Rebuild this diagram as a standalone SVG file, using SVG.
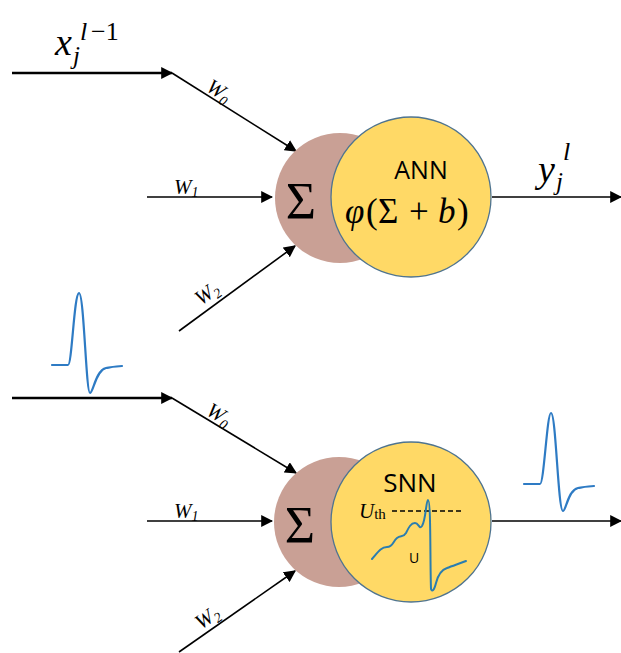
<svg xmlns="http://www.w3.org/2000/svg" width="621" height="653" viewBox="0 0 621 653">
<style>
.ln{stroke:#000;stroke-width:1.6;fill:none}
.thick{stroke:#000;stroke-width:2.6;fill:none}
.brown{fill:#C9A095;stroke:none}
.yel{fill:#FFD966;stroke:#4F7490;stroke-width:1.3}
.math{font-family:"Liberation Serif","DejaVu Serif",serif;font-style:italic;fill:#000}
.up{font-style:normal}
.sans{font-family:"Open Sans","Liberation Sans",sans-serif;fill:#000}
.spike{fill:none;stroke:#2E7BC4;stroke-width:2.2;stroke-linejoin:round;stroke-linecap:round}
.curve{fill:none;stroke:#2A7DB0;stroke-width:2;stroke-linejoin:round;stroke-linecap:round}
</style>
<defs>
<marker id="ahL" viewBox="0 0 10 10" refX="9" refY="5" markerWidth="12" markerHeight="12" markerUnits="userSpaceOnUse" orient="auto">
<path d="M0,0 L10,5 L0,10 Z" fill="#000"/>
</marker>
</defs>

<g id="connectors">
<line class="thick" x1="12" y1="73" x2="172" y2="73" marker-end="url(#ahL)"/>
<line class="ln" x1="172" y1="73" x2="296" y2="151" marker-end="url(#ahL)"/>
<line class="ln" x1="147" y1="197" x2="272" y2="197" marker-end="url(#ahL)"/>
<line class="ln" x1="179" y1="331" x2="295" y2="246" marker-end="url(#ahL)"/>
<line class="ln" x1="492" y1="197" x2="621" y2="197" marker-end="url(#ahL)"/>

<line class="thick" x1="12" y1="398" x2="172" y2="398" marker-end="url(#ahL)"/>
<line class="ln" x1="172" y1="398" x2="296" y2="473" marker-end="url(#ahL)"/>
<line class="ln" x1="147" y1="521" x2="272" y2="521" marker-end="url(#ahL)"/>
<line class="ln" x1="179" y1="652" x2="295" y2="571" marker-end="url(#ahL)"/>
<line class="ln" x1="492" y1="521" x2="621" y2="521" marker-end="url(#ahL)"/>
</g>

<g id="labels">
<text class="math" x="55" y="55" font-size="38">x</text>
<text class="math" x="73" y="64" font-size="25">j</text>
<text class="math" x="80" y="40" font-size="26">l</text>
<text class="math up" x="91" y="40" font-size="26">−1</text>

<text class="math" x="538" y="182" font-size="38">y</text>
<text class="math" x="556" y="190" font-size="25">j</text>
<text class="math" x="563" y="160" font-size="26">l</text>

<g transform="translate(205,90) rotate(32)"><text class="math" font-size="21">W<tspan font-size="14" dy="4">0</tspan></text></g>
<text class="math" x="174" y="194" font-size="21">W<tspan font-size="14" dy="3">1</tspan></text>
<g transform="translate(201,306) rotate(-36)"><text class="math" font-size="21">W<tspan font-size="14" dy="4">2</tspan></text></g>

<g transform="translate(205,414) rotate(31)"><text class="math" font-size="21">W<tspan font-size="14" dy="4">0</tspan></text></g>
<text class="math" x="174" y="518" font-size="21">W<tspan font-size="14" dy="3">1</tspan></text>
<g transform="translate(201,630) rotate(-35)"><text class="math" font-size="21">W<tspan font-size="14" dy="4">2</tspan></text></g>
</g>

<g id="ann">
<circle class="brown" cx="340" cy="198" r="65"/>
<text x="301" y="219" font-size="52" font-family="'Liberation Serif','DejaVu Serif',serif" text-anchor="middle">Σ</text>
<circle class="yel" cx="411" cy="197" r="80"/>
<text class="sans" x="421" y="179" font-size="25" text-anchor="middle">ANN</text>
<text class="math" y="223" font-size="35"><tspan x="345">φ</tspan><tspan class="up" x="366">(</tspan><tspan class="up" x="378">Σ</tspan><tspan class="up" x="409">+</tspan><tspan x="438">b</tspan><tspan class="up" x="457">)</tspan></text>
</g>

<g id="snn">
<circle class="brown" cx="339" cy="522" r="65"/>
<text x="300" y="543" font-size="52" font-family="'Liberation Serif','DejaVu Serif',serif" text-anchor="middle">Σ</text>
<circle class="yel" cx="411" cy="522" r="80"/>
<text class="sans" x="410" y="492" font-size="26" text-anchor="middle">SNN</text>
<text class="math" x="359" y="518" font-size="21">U<tspan font-size="15" font-style="normal" dy="1">th</tspan></text>
<line x1="392" y1="511" x2="462" y2="511" stroke="#000" stroke-width="1.5" stroke-dasharray="5,3"/>
<path class="curve" d="M372,559 C378,552 381,547 387,547 C393,547 393,541 397,538 C401,535 403,538 406,533 C409,527 411,523 415,523 C419,523 419,530 422,526 C426,520 426,500 428,500 C431,500 430,560 431,589 C432,592 434,591 436,583 C438,575 441,570 447,568 C452,566 458,564 466,561"/>
<text class="sans" x="414" y="563" font-size="14" text-anchor="middle">U</text>
</g>

<g id="spikes">
<path class="spike" d="M52,365 L68,365 C72,365 74,294 79,293 C84,293 86,393 90,393 C93,393 96,370 106,368 C112,367 117,366 122,366"/>
<path class="spike" d="M524,484 L540,484 C544,484 547,413 551,413 C556,413 558,511 563,511 C566,511 568,490 578,488 C584,487 589,486 594,486"/>
</g>
</svg>
